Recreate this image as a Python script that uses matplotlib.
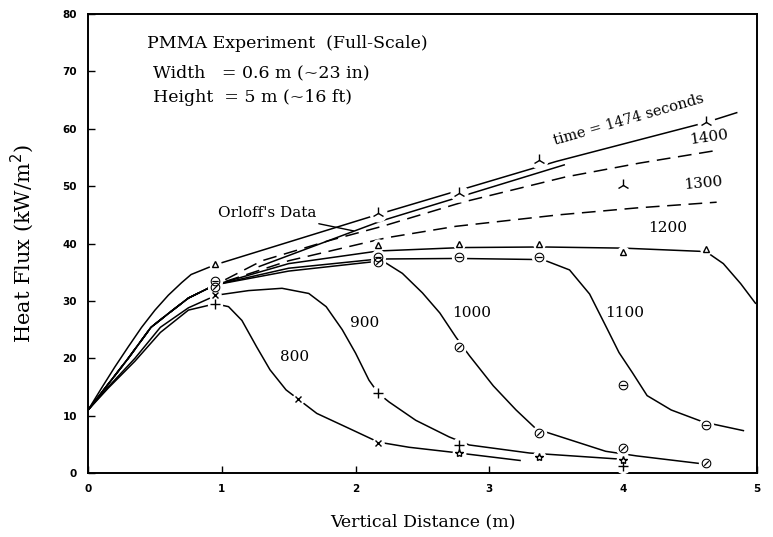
import matplotlib
matplotlib.use("Agg")
import matplotlib.pyplot as plt

# model curves (vertical distance m, heat flux kW/m2)
x_1474 = [0, 0.1, 0.2, 0.3, 0.4, 0.5, 0.6, 0.7, 0.77, 0.95, 2.2, 3.5, 4.62, 4.85]
y_1474 = [11, 14.8, 18.5, 22, 25.4, 28.4, 31, 33.2, 34.6, 36.3, 45.3, 54.3, 61.1, 62.8]

x_1400 = [0, 0.15, 0.3, 0.47, 0.6, 0.75, 0.95, 1.3, 1.8, 2.2, 2.8, 3.57, 4.12, 4.72]
y_1400 = [11, 15.5, 20, 25.4, 27.8, 30.5, 32.8, 37, 40.5, 43, 47.2, 51.6, 54, 56.3]

x_1300 = [0, 0.15, 0.3, 0.47, 0.6, 0.75, 0.95, 1.5, 2.23, 2.75, 3.52, 4.1, 4.7]
y_1300 = [11, 15.5, 20, 25.4, 27.8, 30.5, 32.8, 37, 41, 43, 45, 46.2, 47.2]

x_1200 = [0, 0.15, 0.3, 0.47, 0.6, 0.75, 0.95, 1.5, 2.17, 2.8, 3.4, 4.0, 4.62, 4.75,
          4.88, 4.99]
y_1200 = [11, 15.5, 20, 25.4, 27.8, 30.5, 32.8, 36.5, 38.7, 39.3, 39.4, 39.2, 38.6, 36.5,
          33, 29.6]

x_1100 = [0, 0.15, 0.3, 0.47, 0.6, 0.75, 0.95, 1.5, 2.17, 2.77, 3.4, 3.6, 3.75, 3.88,
          3.97, 4.07, 4.18, 4.36, 4.6, 4.9]
y_1100 = [11, 15.5, 20, 25.4, 27.8, 30.5, 32.8, 35.7, 37.3, 37.4, 37.2, 35.4, 31.2, 25.2,
          21, 17.5, 13.5, 11, 8.9, 7.4]

x_1000 = [0, 0.15, 0.3, 0.47, 0.6, 0.75, 0.95, 1.5, 2.2, 2.35, 2.5, 2.63, 2.75, 2.85,
          3.03, 3.2, 3.35, 3.55, 3.87, 4.1, 4.6]
y_1000 = [11, 15.5, 20, 25.4, 27.8, 30.5, 32.8, 35.2, 37, 34.8, 31.4, 27.9, 23.7, 20.5,
          15.2, 11, 7.7, 6.2, 3.8, 3, 1.6]

x_900 = [0, 0.15, 0.35, 0.54, 0.75, 0.96, 1.2, 1.45, 1.65, 1.78, 1.9, 2.0, 2.1, 2.17,
         2.25, 2.45, 2.7, 2.85, 3.3, 4.0]
y_900 = [11, 15, 20, 25.4, 28.8, 31, 31.8, 32.2, 31.3, 29, 25, 20.9, 16.2, 13.9,
         12.4, 9.2, 6.3, 4.9, 3.5, 2.4]

x_800 = [0, 0.15, 0.35, 0.54, 0.75, 0.95, 1.05, 1.15, 1.26, 1.36, 1.48, 1.57, 1.71,
         1.95, 2.17, 2.4, 2.7, 3.23]
y_800 = [11, 14.8, 19.5, 24.5, 28.4, 29.5, 29, 26.6, 22, 18, 14.5, 12.9, 10.4,
         7.8, 5.4, 4.5, 3.7, 2.2]

x_orloff = [1.28, 2.2, 3.56]
y_orloff = [36, 44, 53.7]

# experimental points
mx_tri = [2.17, 2.77, 3.37, 4.0, 4.62]
my_tri = [45.3, 48.8, 54.5, 50.2, 61.1]
mx_delta = [0.95, 2.17, 2.77, 3.37, 4.0, 4.62]
my_delta = [36.4, 39.7, 40.0, 40.0, 38.5, 39.0]
mx_ominus = [0.95, 2.17, 2.77, 3.37, 4.0, 4.62]
my_ominus = [33.4, 37.6, 37.7, 37.6, 15.4, 8.3]
mx_oslash = [0.95, 2.17, 2.77, 3.37, 4.0, 4.62]
my_oslash = [32.5, 36.8, 22.0, 7.0, 4.4, 1.7]
mx_plus = [0.95, 2.17, 2.77, 4.0]
my_plus = [29.5, 13.9, 4.9, 1.3]
mx_cross = [0.95, 1.57, 2.17]
my_cross = [31.0, 12.9, 5.3]
mx_star = [2.77, 3.37, 4.0]
my_star = [3.5, 2.8, 2.3]

serif = "DejaVu Serif"

fig = plt.figure(figsize=(7.73, 5.37), dpi=100)
ax = fig.add_axes([0.114, 0.119, 0.865, 0.855])

lw = 1.1
ax.plot(x_1474, y_1474, color="black", lw=lw)
ax.plot(x_1400, y_1400, color="black", lw=lw, dashes=(9, 5))
ax.plot(x_1300, y_1300, color="black", lw=lw, dashes=(9, 5))
ax.plot(x_1200, y_1200, color="black", lw=lw)
ax.plot(x_1100, y_1100, color="black", lw=lw)
ax.plot(x_1000, y_1000, color="black", lw=lw)
ax.plot(x_900, y_900, color="black", lw=lw)
ax.plot(x_800, y_800, color="black", lw=lw)
ax.plot(x_orloff, y_orloff, color="black", lw=lw)

markers = [
    (mx_tri, my_tri, "2", 9, "white", 1.0),
    (mx_delta, my_delta, "^", 5, "white", 1.0),
    (mx_ominus, my_ominus, r"$\ominus$", 7, "black", 0),
    (mx_oslash, my_oslash, r"$\oslash$", 7, "black", 0),
    (mx_plus, my_plus, "+", 7, "white", 1.0),
    (mx_cross, my_cross, "x", 5, "white", 1.0),
    (mx_star, my_star, "*", 6, "white", 1.0),
]
for mx, my, m, s, fc, ew in markers:
    # white patch under each point so the lines break around the symbols
    ax.plot(mx, my, marker="o", ms=s + 3, color="white", ls="none", zorder=3)
    ax.plot(mx, my, marker=m, ms=s, color="black", mfc=fc, mew=ew, ls="none", zorder=4)

ax.set_xlim(0, 5)
ax.set_ylim(0, 80)
ax.set_xticks(range(0, 6))
ax.set_yticks(range(0, 81, 10))
ax.tick_params(direction="in", length=5, width=1, labelsize=7.5, pad=8)
for lab in ax.get_xticklabels() + ax.get_yticklabels():
    lab.set_fontweight("bold")
for sp in ax.spines.values():
    sp.set_linewidth(1.4)

ax.set_xlabel("Vertical Distance (m)", family=serif, fontsize=12.5, labelpad=14)
ax.set_ylabel("Heat Flux (kW/m$^2$)", family=serif, fontsize=15, labelpad=19)

ax.text(0.44, 74.0, "PMMA Experiment  (Full-Scale)", family=serif, fontsize=12.5, va="baseline")
ax.text(0.485, 69.0, "Width   = 0.6 m (~23 in)", family=serif, fontsize=12.5, va="baseline")
ax.text(0.485, 64.6, "Height  = 5 m (~16 ft)", family=serif, fontsize=12.5, va="baseline")

ax.text(4.04, 61.6, "time = 1474 seconds", family=serif, fontsize=10.5,
        rotation=16, ha="center", va="center")
ax.text(4.64, 58.5, "1400", family=serif, fontsize=11, rotation=8, ha="center", va="center")
ax.text(4.6, 50.5, "1300", family=serif, fontsize=11, rotation=5, ha="center", va="center")
ax.text(4.33, 42.7, "1200", family=serif, fontsize=11, ha="center", va="center")
ax.text(4.01, 27.9, "1100", family=serif, fontsize=11, ha="center", va="center")
ax.text(2.87, 27.9, "1000", family=serif, fontsize=11, ha="center", va="center")
ax.text(2.07, 26.1, "900", family=serif, fontsize=11, ha="center", va="center")
ax.text(1.54, 20.2, "800", family=serif, fontsize=11, ha="center", va="center")

ax.annotate("Orloff's Data", xy=(1.985, 42.2), xytext=(1.34, 45.3),
            family=serif, fontsize=11, ha="center", va="center",
            arrowprops=dict(arrowstyle="-", color="black", lw=1.0, shrinkA=3, shrinkB=0))

fig.savefig("out.png", dpi=100)
